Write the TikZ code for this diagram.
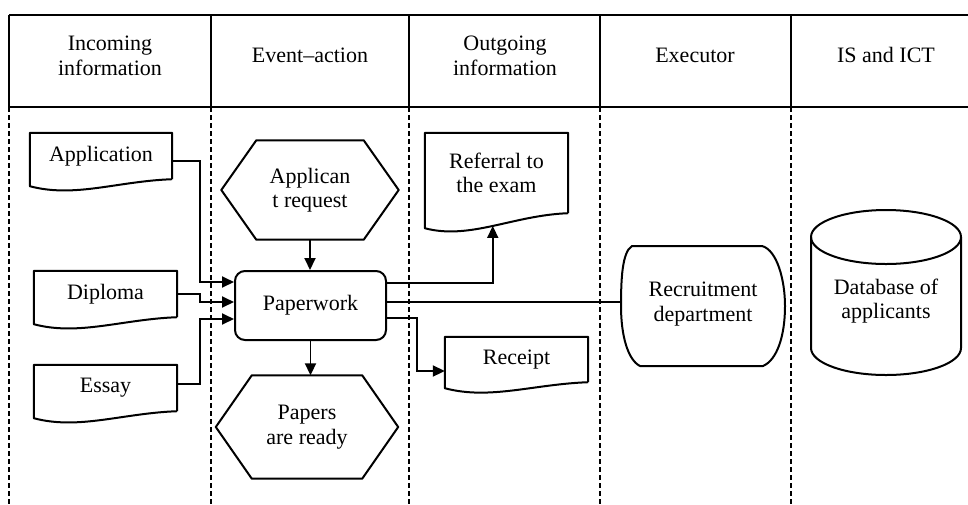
\documentclass[tikz,border=0pt]{standalone}
\usepackage{fontspec}
\setmainfont{Liberation Serif}
\usetikzlibrary{arrows.meta}
\newcommand\docshape[2]{%
  \draw[outline] (#1.south east) -- (#1.north east) -- (#1.north west) -- ([yshift=-#2pt]#1.south west)
    .. controls +(45,12) and +(-55,2) .. coordinate[pos=0.5] (#1-wave) (#1.south east);}
\newcommand\hexshape[2]{%
  \draw[outline] (#1.west) -- ([xshift=#2pt]#1.north west) -- ([xshift=-#2pt]#1.north east) -- (#1.east)
    -- ([xshift=-#2pt]#1.south east) -- ([xshift=#2pt]#1.south west) -- cycle;}
\begin{document}
\begin{tikzpicture}[x=1pt,y=-1pt,
  txt/.style={inner sep=0pt, align=center, font=\fontsize{22}{24.5}\selectfont},
  box/.style={txt, draw=none, rectangle},
  outline/.style={line width=2pt, line join=round},
  conn/.style={line width=1.9pt},
  arr/.style={conn, -{Triangle[length=12pt,width=11pt]}},
  gridline/.style={line width=1.3pt},
  lane/.style={line width=1.2pt, dash pattern=on 5pt off 3pt}]
\useasboundingbox (0,0) rectangle (968,504);
% table
\draw[gridline] (9,15) -- (968,15);
\draw[gridline] (9,107) -- (968,107);
\foreach \x in {9,211,409,600,791} {
  \draw[gridline] (\x,15) -- (\x,107);
  \draw[lane] (\x,107) -- (\x,504);
}
\node[txt] (h1) at (110,56) {Incoming\\information};
\node[txt] (h2) at (310,55) {Event--action};
\node[txt] (h3) at (505,56) {Outgoing\\information};
\node[txt] (h4) at (695,55) {Executor};
\node[txt] (h5) at (886,55) {IS and ICT};
% incoming documents
\node[box, minimum width=142pt, minimum height=46pt] (app) at (101,156) {Application};
\docshape{app}{7}
\node[box, minimum width=143pt, minimum height=46pt] (dipl) at (105.5,294) {Diploma};
\docshape{dipl}{7}
\node[box, minimum width=143pt, minimum height=46pt] (essay) at (105.5,388) {Essay};
\docshape{essay}{7}
% events
\node[box, minimum width=177pt, minimum height=99pt] (req) at (310,190) {Applican\\t request};
\hexshape{req}{35}
\node[box, minimum width=182pt, minimum height=103pt] (ready) at (307,427) {Papers\\are ready};
\hexshape{ready}{36}
\node[txt, draw, line width=2pt, rounded corners=10pt, minimum width=151pt, minimum height=69pt] (pw) at (310.5,305.5) {Paperwork};
% outgoing documents
\node[box, minimum width=143pt, minimum height=80pt] (ref) at (496.5,173) {Referral to\\the exam};
\docshape{ref}{15}
\node[box, minimum width=143pt, minimum height=45pt] (rcpt) at (516.5,359.5) {Receipt};
\docshape{rcpt}{6}
% executor
\node[box, minimum width=164pt, minimum height=120pt] (rec) at (703,304) {Recruitment\\department};
\draw[outline] (632,246) -- (762,246)
  .. controls (777,250) and (785,280) .. (785,306)
  .. controls (785,336) and (777,360) .. (763,366) -- (640,366)
  .. controls (628,360) and (621,336) .. (621,306)
  .. controls (621,280) and (622,252) .. (632,246) -- cycle;
% database
\node[box, minimum width=150pt, minimum height=165pt] (db) at (886,301) {Database of\\applicants};
\draw[outline] (886,237) ellipse [x radius=75pt, y radius=27pt];
\draw[outline] (811,237) -- (811,348) arc[start angle=180, end angle=360, x radius=75pt, y radius=27pt] -- (961,237);
% connectors
\draw[arr] ([yshift=-5pt]app.east) -- ++(28,0) |- ([yshift=23.5pt]pw.west);
\draw[arr] (dipl.east) -- ++(23,0) |- ([yshift=3.5pt]pw.west);
\draw[arr] ([yshift=4pt]essay.east) -- ++(23,0) |- ([yshift=-13.5pt]pw.west);
\draw[arr] (req.south) -- (req.south |- pw.north);
\draw[arr] (pw.south) -- (pw.south |- ready.north);
\draw[arr] ([yshift=22.5pt]pw.east) -| (ref-wave);
\draw[conn, line width=1.5pt] ([yshift=3.5pt]pw.east) -- (rec.west |- 0,302);
\draw[arr] ([yshift=-12.5pt]pw.east) -- ++(30,0) |- (rcpt.west |- 0,371);
\end{tikzpicture}
\end{document}
